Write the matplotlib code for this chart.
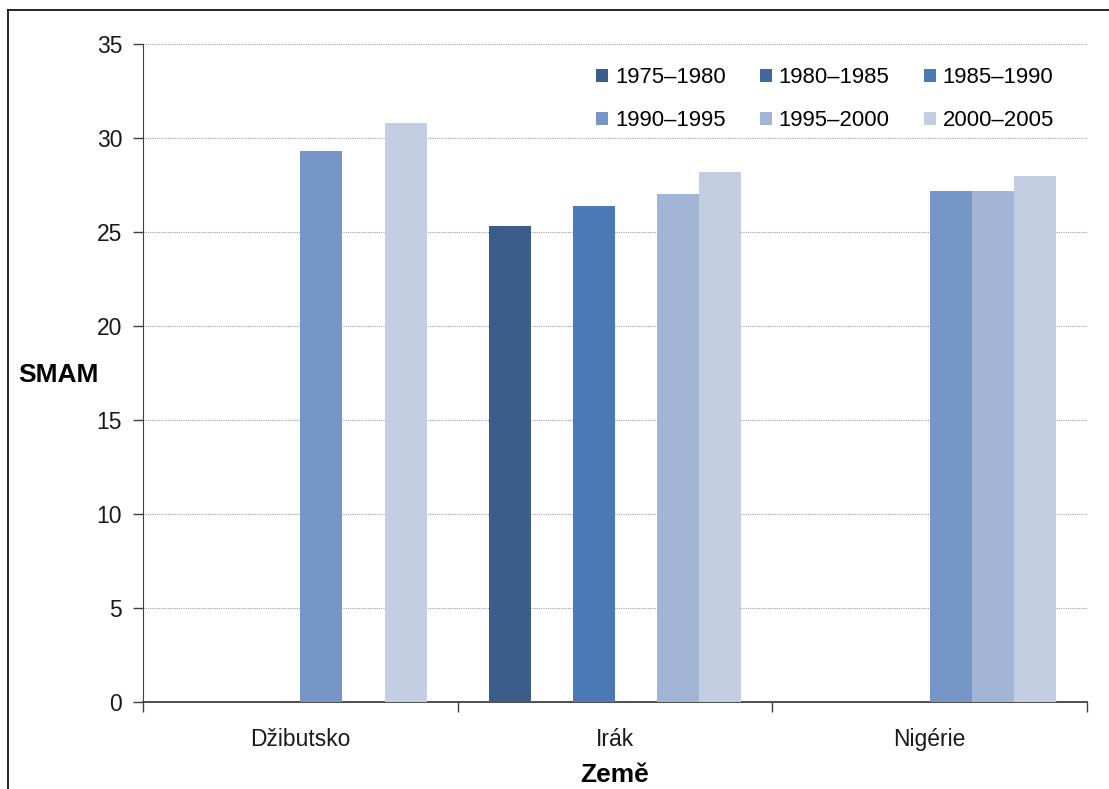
import numpy as np
import matplotlib
matplotlib.use("Agg")
from matplotlib import pyplot as plt
from matplotlib.lines import Line2D

plt.rcParams['font.family'] = ['Liberation Sans', 'DejaVu Sans']

countries = ['Džibutsko', 'Irák', 'Nigérie']
periods = ['1975–1980', '1980–1985', '1985–1990', '1990–1995', '1995–2000', '2000–2005']

# SMAM per period, one list per country (nan = no data)
dzibutsko = [np.nan, np.nan, np.nan, 29.3, np.nan, 30.8]
irak = [25.3, np.nan, 26.4, np.nan, 27.0, 28.2]
nigerie = [np.nan, np.nan, np.nan, 27.2, 27.2, 28.0]

colors = ['#3a5d8b', '#4069a2', '#4a79b5', '#7596c6', '#a2b5d5', '#c3cee2']

values = np.array([dzibutsko, irak, nigerie])

fig = plt.figure(figsize=(11.09, 7.89), dpi=100)
ax = fig.add_axes([143 / 1109, 87 / 789, 944 / 1109, 658 / 789])

x = np.arange(len(countries))
width = 0.134
bars = []
for i, period in enumerate(periods):
    b = ax.bar(x + (i - 2.5) * width, values[:, i], width, color=colors[i],
               label=period, zorder=3, linewidth=0)
    bars.append(b)

ax.set_xlim(-0.5, 2.5)
ax.set_ylim(0, 35)
ax.set_yticks(np.arange(0, 36, 5))
ax.yaxis.grid(True, linestyle=(0, (1, 1)), color='#a0a0a0', linewidth=0.8, zorder=0)

# category boundaries as ticks, names centred under each group
ax.set_xticks([-0.5, 0.5, 1.5, 2.5])
ax.set_xticklabels([])
ax.set_xticks(x, minor=True)
ax.set_xticklabels(countries, minor=True)
ax.tick_params(axis='x', which='major', direction='out', length=7, width=1, color='#404040')
ax.tick_params(axis='x', which='minor', length=0, pad=19, labelsize=16.5, labelcolor='#1a1a1a')
ax.tick_params(axis='y', direction='out', length=7, width=1, color='#404040',
               pad=8, labelsize=16.5, labelcolor='#1a1a1a')

for side in ['top', 'right']:
    ax.spines[side].set_visible(False)
ax.spines['left'].set_color('#404040')
ax.spines['bottom'].set_color('#404040')
ax.spines['bottom'].set_linewidth(1.3)

fig.text(18 / 1109, 1 - 375 / 789, 'SMAM', fontsize=19, fontweight='bold', va='center', ha='left')
fig.text(615 / 1109, 1 - 775 / 789, 'Země', fontsize=19, fontweight='bold', va='center', ha='center')

# legend reads row by row: reorder for matplotlib's column filling
order = [0, 3, 1, 4, 2, 5]
ax.legend([bars[k] for k in order], [periods[k] for k in order], ncol=3,
          loc='upper right', bbox_to_anchor=(1054 / 1109, 1 - 67 / 789),
          bbox_transform=fig.transFigure, frameon=False, fontsize=15.9,
          handlelength=0.55, handleheight=0.55, handletextpad=0.3,
          columnspacing=1.55, labelspacing=1.0, borderpad=0, borderaxespad=0)

# outer frame
fig.add_artist(Line2D([8 / 1109, 8 / 1109], [0, 1 - 10 / 789], transform=fig.transFigure,
                      color='black', linewidth=1.2))
fig.add_artist(Line2D([8 / 1109, 1], [1 - 10 / 789, 1 - 10 / 789], transform=fig.transFigure,
                      color='black', linewidth=1.2))

fig.savefig('out.png', dpi=100)
plt.close(fig)
